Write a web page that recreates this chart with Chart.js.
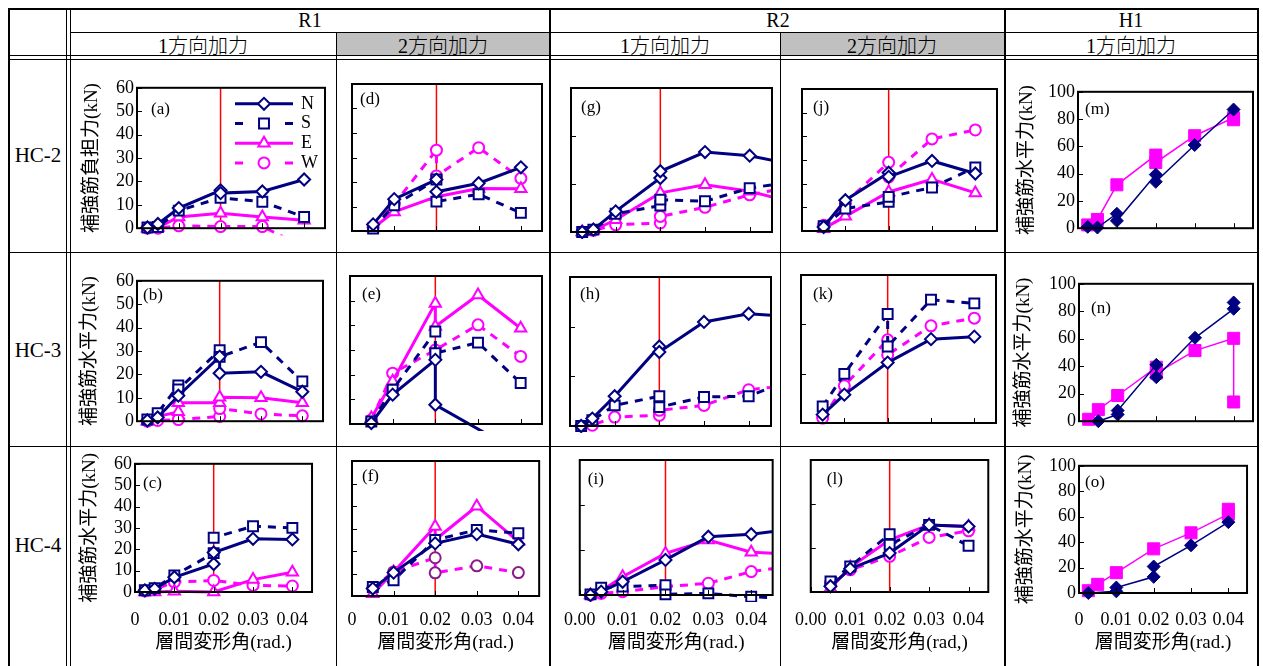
<!DOCTYPE html>
<html lang="ja">
<head>
<meta charset="utf-8">
<title>補強筋負担力と層間変形角</title>
<script src="https://cdn.jsdelivr.net/npm/chart.js@4.4.1/dist/chart.umd.min.js"></script>
<style>
  body { margin: 0; background: #fff; }
  #sheet { position: relative; width: 1263px; height: 666px; overflow: hidden;
           font-family: 'Liberation Serif', 'Noto Sans CJK JP', serif; color: #000; }
  .ln { position: absolute; background: #000; }
  .gray { position: absolute; background: #c0c0c0; }
  .txt { position: absolute; transform: translate(-50%, -50%); white-space: nowrap; font-size: 20px; }
  .jp { font-size: 20px; font-weight: 300; }
  .row { font-size: 21px; }
  .cv { position: absolute; }
</style>
</head>
<body>
<div id="sheet">
  <!-- header shading -->
  <div class="gray" style="left:337px;top:33px;width:212px;height:22px"></div>
  <div class="gray" style="left:781px;top:33px;width:223px;height:22px"></div>

  <!-- table rules -->
  <div class="ln" style="left:8px;top:8px;width:1251px;height:2px"></div>
  <div class="ln" style="left:8px;top:8px;width:2px;height:658px"></div>
  <div class="ln" style="left:1257px;top:8px;width:2px;height:658px"></div>
  <div class="ln" style="left:66px;top:8px;width:1px;height:658px"></div>
  <div class="ln" style="left:70px;top:8px;width:1px;height:658px"></div>
  <div class="ln" style="left:71px;top:32px;width:1186px;height:1px"></div>
  <div class="ln" style="left:8px;top:55px;width:1251px;height:1px"></div>
  <div class="ln" style="left:8px;top:59px;width:1251px;height:1px"></div>
  <div class="ln" style="left:336px;top:32px;width:1px;height:634px"></div>
  <div class="ln" style="left:549px;top:8px;width:2px;height:658px"></div>
  <div class="ln" style="left:780px;top:32px;width:1px;height:634px"></div>
  <div class="ln" style="left:1004px;top:8px;width:2px;height:658px"></div>
  <div class="ln" style="left:8px;top:252px;width:1251px;height:1px"></div>
  <div class="ln" style="left:8px;top:446px;width:1251px;height:1px"></div>

  <!-- header text -->
  <div class="txt" style="left:310px;top:20px">R1</div>
  <div class="txt" style="left:778px;top:20px">R2</div>
  <div class="txt" style="left:1131px;top:20px">H1</div>
  <div class="txt jp" style="left:203px;top:44px">1方向加力</div>
  <div class="txt jp" style="left:443px;top:44px">2方向加力</div>
  <div class="txt jp" style="left:665px;top:44px">1方向加力</div>
  <div class="txt jp" style="left:892px;top:44px">2方向加力</div>
  <div class="txt jp" style="left:1131px;top:44px">1方向加力</div>
  <div class="txt row" style="left:38px;top:155px">HC-2</div>
  <div class="txt row" style="left:38px;top:350px">HC-3</div>
  <div class="txt row" style="left:38px;top:545px">HC-4</div>
</div>

<script>
// drift angle (rad.) vs. force (kN)
// HC-2
var a_N = [[0.0025,0.3],[0.005,1.8],[0.01,8.6],[0.02,16.2],[0.02,15],[0.03,15.7],[0.04,20.8]];
var a_S = [[0.0025,0.3],[0.005,0.5],[0.01,7.5],[0.02,13],[0.03,11.3],[0.04,4.8]];
var a_E = [[0.0025,0],[0.005,0.3],[0.01,4.8],[0.02,6.4],[0.03,4.8],[0.04,3.4]];
var a_W = [[0.0025,0],[0.005,0],[0.01,1],[0.02,0.7],[0.03,0.7],[0.04,-8]];

var d_N = [[0.005,2.7],[0.01,13],[0.02,21],[0.02,16],[0.03,19.5],[0.04,26]];
var d_S = [[0.005,1],[0.01,10.5],[0.02,21],[0.02,12],[0.03,15],[0.04,7.4]];
var d_E = [[0.005,1.2],[0.01,7.8],[0.02,14],[0.03,17.3],[0.04,17.2]];
var d_W = [[0.005,1.5],[0.01,11],[0.02,33],[0.02,22.5],[0.03,34],[0.04,21.5]];

var g_N = [[0.0025,0],[0.005,1],[0.01,8.6],[0.02,22.5],[0.02,25.3],[0.03,33.3],[0.04,31.8],[0.05,28]];
var g_S = [[0.0025,0],[0.005,1],[0.01,7.6],[0.02,11],[0.02,13.5],[0.03,12.8],[0.04,18.3],[0.05,21]];
var g_E = [[0.0025,0],[0.005,0.7],[0.01,5.1],[0.02,16.3],[0.03,19.7],[0.04,17],[0.05,12.2]];
var g_W = [[0.0025,0],[0.005,0.7],[0.01,3],[0.02,3.75],[0.02,6.5],[0.03,10.3],[0.04,15.5],[0.05,19]];

var j_N = [[0.005,1.7],[0.01,13],[0.02,24.6],[0.02,22.9],[0.03,29.6],[0.04,24.3]];
var j_S = [[0.005,2],[0.01,9.5],[0.02,12.3],[0.02,14.4],[0.03,18.4],[0.04,26.9]];
var j_E = [[0.005,1],[0.01,6.2],[0.02,16.5],[0.03,21.8],[0.04,16.1]];
var j_W = [[0.005,2.4],[0.01,11.9],[0.02,29],[0.02,22.9],[0.03,38.9],[0.04,42.7]];

var m_A = [[0.0025,1],[0.005,0.5],[0.01,10.6],[0.01,5.4],[0.02,39.3],[0.02,34],[0.03,61],[0.04,87]];
var m_B = [[0.0025,2.4],[0.005,6.4],[0.01,31.8],[0.02,53.6],[0.02,48.2],[0.03,67.8],[0.04,81],[0.04,79.5]];

// HC-3
var b_N = [[0.0025,0.3],[0.005,1.6],[0.01,10.9],[0.02,27.6],[0.02,20.5],[0.03,21.1],[0.04,12.6]];
var b_S = [[0.0025,0.7],[0.005,3.4],[0.01,15.3],[0.01,13.6],[0.02,30.3],[0.02,27.5],[0.03,33.8],[0.04,17]];
var b_E = [[0.0025,0],[0.005,2],[0.01,4],[0.01,7.9],[0.02,7.9],[0.02,10.2],[0.03,10],[0.04,7.9]];
var b_W = [[0.0025,0],[0.005,0.3],[0.01,0.7],[0.02,2],[0.02,5.4],[0.03,3.1],[0.04,2.3]];

var e_N = [[0.005,0.4],[0.01,11.9],[0.02,26],[0.02,7.8],[0.032,-4]];
var e_S = [[0.005,1],[0.01,13.9],[0.02,37.5],[0.02,28.7],[0.03,33],[0.04,16.6]];
var e_E = [[0.005,2.4],[0.01,17.3],[0.02,48.9],[0.02,39.5],[0.03,52.3],[0.04,38.8]];
var e_W = [[0.005,1.7],[0.01,20.6],[0.02,30],[0.03,40.2],[0.04,27.4]];

var h_N = [[0.0025,0],[0.005,3],[0.01,12],[0.02,32],[0.02,29.8],[0.03,41.9],[0.04,45.2],[0.05,44]];
var h_S = [[0.0025,0],[0.005,2.3],[0.01,8.3],[0.02,12],[0.02,7.6],[0.03,11.7],[0.04,12],[0.05,19]];
var h_W = [[0.0025,0],[0.005,0.3],[0.01,3.6],[0.02,4.3],[0.02,6.3],[0.03,8.3],[0.04,14.6],[0.05,16.5]];

var k_N = [[0.005,3.4],[0.01,11.5],[0.02,24.5],[0.03,34],[0.04,35]];
var k_S = [[0.005,6.7],[0.01,19.9],[0.02,44.2],[0.02,31],[0.03,50],[0.04,48.5]];
var k_W = [[0.005,2],[0.01,15.1],[0.02,33.7],[0.02,27.6],[0.03,39.4],[0.04,42.5]];

var n_A = [[0.005,0],[0.01,4.9],[0.01,7.7],[0.02,41],[0.02,32],[0.03,60.7],[0.04,81.8],[0.04,86.4]];
var n_B = [[0.0025,1.4],[0.005,8.4],[0.01,18.7],[0.02,39.3],[0.02,35],[0.03,51.4],[0.04,60.3],[0.04,14]];

// HC-4
var c_N = [[0.0025,0.8],[0.005,1.5],[0.01,6.9],[0.02,13.1],[0.02,18.5],[0.03,24.9],[0.04,24.6]];
var c_S = [[0.0025,0.8],[0.005,1.8],[0.01,7.7],[0.02,18.2],[0.02,25.4],[0.03,30.8],[0.04,30]];
var c_E = [[0.0025,0],[0.005,0],[0.01,0.3],[0.02,0],[0.03,5.8],[0.04,9.2]];
var c_W = [[0.0025,0.5],[0.005,1.2],[0.01,4.6],[0.02,5.4],[0.03,3.1],[0.04,2.8]];

var f_N = [[0.005,3.3],[0.01,10.4],[0.02,23.4],[0.03,27.5],[0.04,23]];
var f_S = [[0.005,4],[0.01,7],[0.02,24.9],[0.03,29.4],[0.04,27.9]];
var f_E = [[0.005,1],[0.01,10.7],[0.02,30.9],[0.02,25],[0.03,39.9],[0.04,24.2]];
var f_W = [[0.005,3.6],[0.01,10.7],[0.02,17],[0.02,10.3],[0.03,13.4],[0.04,10.4]];

var i_N = [[0.0025,0],[0.005,1.5],[0.01,5.9],[0.02,15.6],[0.03,25.9],[0.04,27],[0.05,29.5]];
var i_S = [[0.0025,0.3],[0.005,3.3],[0.01,3.7],[0.02,4.4],[0.02,0.3],[0.03,0.7],[0.04,-0.8],[0.05,-1.5]];
var i_E = [[0.0025,0],[0.005,1.8],[0.01,8.1],[0.02,18.5],[0.03,24.4],[0.04,19],[0.05,18.2]];
var i_W = [[0.0025,0],[0.005,0.7],[0.01,1.5],[0.02,3.7],[0.03,5.2],[0.04,10.4],[0.05,13]];

var l_N = [[0.005,2.6],[0.01,10.6],[0.02,17.7],[0.03,30.5],[0.04,29.8]];
var l_S = [[0.005,4.8],[0.01,11.6],[0.02,26.3],[0.02,21.5],[0.03,30.5],[0.04,21]];
var l_E = [[0.005,1.8],[0.01,11.2],[0.02,23.7],[0.03,30.5],[0.04,29.8]];
var l_W = [[0.005,4],[0.01,10.1],[0.02,16.2],[0.03,24.8],[0.04,27.8]];

var o_A = [[0.0025,0],[0.01,1.3],[0.01,4.3],[0.02,12.7],[0.02,20.8],[0.03,37.5],[0.04,55.7]];
var o_B = [[0.0025,1.8],[0.005,6.8],[0.01,16],[0.02,34.7],[0.03,47.3],[0.04,62],[0.04,65.8]];

// tick labels
var xTicksR1 = ['0', '0.01', '0.02', '0.03', '0.04'];
var xTicksR2 = ['0.00', '0.01', '0.02', '0.03', '0.04'];
var yTicks60 = ['0', '10', '20', '30', '40', '50', '60'];
var yTicks100 = ['0', '20', '40', '60', '80', '100'];
var refDrift = 0.02;

var NAVY = '#000080', MAG = '#ff00ff';
var STY = {
  N: { c: NAVY, dash: [], ps: 'rectRot', r: 6 },
  S: { c: NAVY, dash: [8, 7], ps: 'rect', r: 7 },
  E: { c: MAG, dash: [], ps: 'triangle', r: 6.5 },
  W: { c: MAG, dash: [8, 7], ps: 'circle', r: 5.5 }
};

function dsR(name, data, markerColor) {
  var s = STY[name];
  return {
    label: name, data: data, borderColor: s.c, borderWidth: 3, borderDash: s.dash,
    pointStyle: s.ps, pointRadius: s.r, pointBorderColor: markerColor || s.c,
    pointBackgroundColor: '#fff', pointBorderWidth: 2, tension: 0, fill: false,
    clip: { left: 2, top: 2, right: 0, bottom: 7 }
  };
}
function dsH(data, color, ps, r) {
  return {
    data: data, borderColor: color, borderWidth: 1.5, pointStyle: ps, pointRadius: r,
    pointBorderColor: color, pointBackgroundColor: color, pointBorderWidth: 1,
    tension: 0, fill: false, clip: { left: 2, top: 2, right: 2, bottom: 7 }
  };
}

var panels = [
  { tag: '(a)', box: [137, 84, 325, 230], ymax: 60, ystep: 10, yl: yTicks60, yt: '補強筋負担力(kN)', ytPad: 6, tx: 14, ty: 22, legend: true, ref: true,
    sets: [dsR('N', a_N), dsR('S', a_S), dsR('E', a_E), dsR('W', a_W)] },
  { tag: '(d)', box: [352, 84, 542, 231], ymax: 60, ystep: 10, tx: 8, ty: 16, ref: true,
    sets: [dsR('N', d_N), dsR('S', d_S), dsR('E', d_E), dsR('W', d_W)] },
  { tag: '(g)', box: [571, 88, 772, 232], ymax: 60, ystep: 20, tx: 10, ty: 20, ref: true,
    sets: [dsR('N', g_N), dsR('S', g_S), dsR('E', g_E), dsR('W', g_W)] },
  { tag: '(j)', box: [802, 89, 997, 231], ymax: 60, ystep: 10, tx: 11, ty: 19, ref: true,
    sets: [dsR('N', j_N), dsR('S', j_S), dsR('E', j_E), dsR('W', j_W)] },
  { tag: '(m)', box: [1078, 88, 1253, 230], ymax: 100, ystep: 20, yl: yTicks100, yt: '補強筋水平力(kN)', ytPad: 4, tx: 7, ty: 18,
    sets: [dsH(m_A, NAVY, 'rectRot', 6.5), dsH(m_B, MAG, 'rect', 8.5)] },

  { tag: '(b)', box: [137, 277, 323, 423], ymax: 60, ystep: 10, yl: yTicks60, yt: '補強筋水平力(kN)', ytPad: 4, tx: 6, ty: 15, ref: true,
    sets: [dsR('N', b_N), dsR('S', b_S), dsR('E', b_E), dsR('W', b_W)] },
  { tag: '(e)', box: [350, 276, 542, 424], ymax: 60, ystep: 10, tx: 12, ty: 19, ref: true,
    sets: [dsR('N', e_N), dsR('S', e_S), dsR('E', e_E), dsR('W', e_W)] },
  { tag: '(h)', box: [570, 277, 771, 426], ymax: 60, ystep: 20, tx: 10, ty: 18, ref: true,
    sets: [dsR('N', h_N), dsR('S', h_S), dsR('W', h_W)] },
  { tag: '(k)', box: [801, 275, 996, 423], ymax: 60, ystep: 20, tx: 12, ty: 20, ref: true,
    sets: [dsR('N', k_N), dsR('S', k_S), dsR('W', k_W)] },
  { tag: '(n)', box: [1079, 280, 1253, 423], ymax: 100, ystep: 20, yl: yTicks100, yt: '補強筋水平力(kN)', ytPad: 0, tx: 12, ty: 25,
    sets: [dsH(n_A, NAVY, 'rectRot', 6.5), dsH(n_B, MAG, 'rect', 8.5)] },

  { tag: '(c)', box: [135, 460, 318, 592], ymax: 60, ystep: 10, yl: yTicks60, yt: '補強筋水平力(kN)', ytPad: 6, tx: 8, ty: 20, ref: true,
    xl: xTicksR1, xt: '層間変形角(rad.)',
    sets: [dsR('N', c_N), dsR('S', c_S), dsR('E', c_E), dsR('W', c_W)] },
  { tag: '(f)', box: [352, 461, 540, 596], ymax: 60, ystep: 10, tx: 10, ty: 16, ref: true,
    xl: xTicksR1, xt: '層間変形角(rad.)',
    sets: [dsR('N', f_N), dsR('S', f_S), dsR('E', f_E), dsR('W', f_W, '#8b1a8b')] },
  { tag: '(i)', box: [572, 460, 773, 595], ymax: 60, ystep: 20, tx: 8, ty: 20, ref: true,
    xl: xTicksR2, xt: '層間変形角(rad.)',
    sets: [dsR('N', i_N), dsR('S', i_S), dsR('E', i_E), dsR('W', i_W)] },
  { tag: '(l)', box: [800, 460, 993, 592], ymax: 60, ystep: 20, tx: 16, ty: 20, ref: true,
    xl: xTicksR2, xt: '層間変形角(rad,)',
    sets: [dsR('N', l_N), dsR('S', l_S), dsR('E', l_E), dsR('W', l_W)] },
  { tag: '(o)', box: [1079, 462, 1253, 593], ymax: 100, ystep: 20, yl: yTicks100, yt: '補強筋水平力(kN)', ytPad: 2, tx: 6, ty: 17,
    xl: xTicksR1, xt: '層間変形角(rad.)',
    sets: [dsH(o_A, NAVY, 'rectRot', 6.5), dsH(o_B, MAG, 'rect', 8.5)] }
];

Chart.defaults.font.family = "'Liberation Serif', 'Noto Sans CJK JP', serif";
Chart.defaults.color = '#000';

function drawLegend(chart, a) {
  var ctx = chart.ctx;
  chart.data.datasets.forEach(function (ds, i) {
    var yy = a.top + 16 + i * 19.7;
    var x0 = a.left + 98, x1 = a.left + 156, xm = a.left + 127;
    ctx.strokeStyle = ds.borderColor;
    ctx.lineWidth = 3;
    ctx.setLineDash([]);
    ctx.beginPath();
    if (ds.borderDash.length) {
      ctx.moveTo(x0, yy); ctx.lineTo(x0 + 8, yy);
      ctx.moveTo(x1 - 8, yy); ctx.lineTo(x1, yy);
    } else {
      ctx.moveTo(x0, yy); ctx.lineTo(x1, yy);
    }
    ctx.stroke();
    ctx.fillStyle = '#fff';
    ctx.lineWidth = 2;
    Chart.helpers.drawPoint(ctx, { pointStyle: ds.pointStyle, radius: ds.pointRadius, borderWidth: 2, rotation: 0 }, xm, yy);
    ctx.fillStyle = '#000';
    ctx.font = '18px "Liberation Serif"';
    ctx.textAlign = 'left';
    ctx.textBaseline = 'middle';
    ctx.fillText(ds.label, a.left + 164, yy);
  });
}

var framePlugin = {
  id: 'frame',
  beforeDatasetsDraw: function (chart, args, o) {
    if (!o.ref) return;
    var ctx = chart.ctx, a = chart.chartArea;
    var px = chart.scales.x.getPixelForValue(refDrift);
    ctx.save();
    ctx.strokeStyle = '#ff0000';
    ctx.lineWidth = 1.5;
    ctx.beginPath();
    ctx.moveTo(px, a.top);
    ctx.lineTo(px, a.bottom);
    ctx.stroke();
    ctx.restore();
  },
  afterDraw: function (chart, args, o) {
    var ctx = chart.ctx, a = chart.chartArea, x = chart.scales.x, y = chart.scales.y;
    ctx.save();
    ctx.strokeStyle = '#000';
    ctx.lineWidth = 1;
    ctx.beginPath();
    x.ticks.forEach(function (t) {
      var px = Math.round(x.getPixelForValue(t.value)) + 0.5;
      ctx.moveTo(px, a.bottom); ctx.lineTo(px, a.bottom - 5);
    });
    y.ticks.forEach(function (t) {
      var py = Math.round(y.getPixelForValue(t.value)) + 0.5;
      ctx.moveTo(a.left, py); ctx.lineTo(a.left + 5, py);
    });
    ctx.stroke();
    ctx.lineWidth = 2;
    ctx.strokeRect(a.left, a.top, a.right - a.left, a.bottom - a.top);
    ctx.fillStyle = '#000';
    ctx.font = '17px "Liberation Serif"';
    ctx.textAlign = 'left';
    ctx.textBaseline = 'middle';
    ctx.fillText(o.tag, a.left + o.tx, a.top + o.ty);
    if (o.legend) drawLegend(chart, a);
    ctx.restore();
  }
};

var sheet = document.getElementById('sheet');
var padL = 18, padT = 10, padR = 8;

panels.forEach(function (p) {
  var L = p.box[0], T = p.box[1], R = p.box[2], B = p.box[3];
  var yW = p.yl ? (p.ymax === 100 ? 66 : 62) : 4;
  var xH = p.xl ? 654 - B : 12;
  var w = (R - L) + yW + padL + padR;
  var h = (B - T) + padT + xH;

  var wrap = document.createElement('div');
  wrap.className = 'cv';
  wrap.style.left = (L - yW - padL) + 'px';
  wrap.style.top = (T - padT) + 'px';
  wrap.style.width = w + 'px';
  wrap.style.height = h + 'px';
  var cv = document.createElement('canvas');
  cv.width = w; cv.height = h;
  cv.style.width = w + 'px'; cv.style.height = h + 'px';
  wrap.appendChild(cv);
  sheet.appendChild(wrap);

  new Chart(cv, {
    type: 'line',
    data: { datasets: p.sets },
    options: {
      responsive: false,
      animation: false,
      events: [],
      layout: { padding: { left: padL, top: padT, right: padR, bottom: 0 }, autoPadding: false },
      plugins: {
        legend: { display: false },
        tooltip: { enabled: false },
        frame: { tag: p.tag, tx: p.tx, ty: p.ty, ref: !!p.ref, legend: !!p.legend }
      },
      scales: {
        x: {
          type: 'linear', min: 0, max: 0.045,
          grid: { display: false, drawTicks: false },
          border: { display: false },
          ticks: {
            display: !!p.xl, stepSize: 0.01, includeBounds: false, autoSkip: false, maxRotation: 0,
            padding: p.xl ? 609 - B : 0, font: { size: 18 },
            callback: function (v, i) { return p.xl ? p.xl[i] : ''; }
          },
          title: { display: !!p.xt, text: p.xt || '', font: { size: 19 }, padding: { top: 0, bottom: 0 } },
          afterFit: function (s) { s.height = xH; }
        },
        y: {
          type: 'linear', min: 0, max: p.ymax,
          grid: { display: false, drawTicks: false },
          border: { display: false },
          ticks: {
            display: !!p.yl, stepSize: p.ystep, autoSkip: false, padding: 3, font: { size: 18 },
            callback: function (v, i) { return p.yl ? p.yl[i] : ''; }
          },
          title: { display: !!p.yt, text: p.yt || '', font: { size: 19 }, padding: { top: p.ytPad || 0, bottom: 0 } },
          afterFit: function (s) { s.width = yW; }
        }
      }
    },
    plugins: [framePlugin]
  });
});
</script>
</body>
</html>
